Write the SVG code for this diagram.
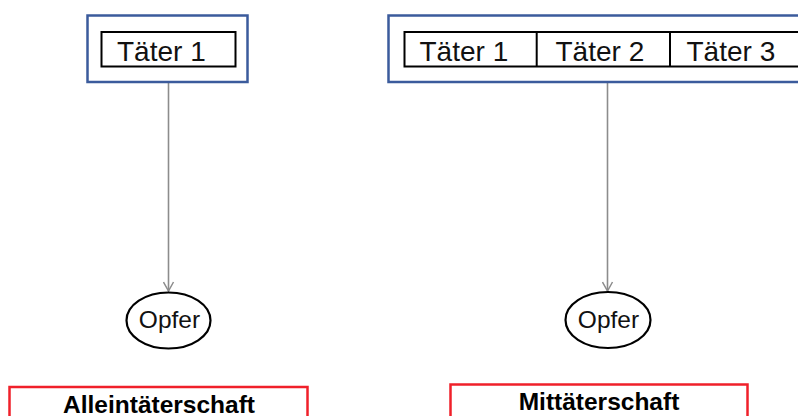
<svg xmlns="http://www.w3.org/2000/svg" width="798" height="416" viewBox="0 0 798 416">
<defs>
<style>
.outer{fill:#fff;stroke:#3B5B9C;stroke-width:2.5}
.cell{fill:#fff;stroke:#000;stroke-width:2}
.t{font-family:"Liberation Sans",Arial,sans-serif;font-size:28px;fill:#111}
.o{font-family:"Liberation Sans",Arial,sans-serif;font-size:24.5px;fill:#111;text-anchor:middle}
.lbl{font-family:"Liberation Sans",Arial,sans-serif;font-size:24.5px;font-weight:bold;fill:#000;text-anchor:middle}
.red{fill:#fff;stroke:#F0202A;stroke-width:2.5}
.ell{fill:#fff;stroke:#000;stroke-width:2.2}
.conn{stroke:#8C8C8C;stroke-width:1.6;fill:none}
</style>
<marker id="arr" markerWidth="12" markerHeight="12" refX="10" refY="6" orient="auto" markerUnits="userSpaceOnUse">
<path d="M1,1 L10,6 L1,11" fill="none" stroke="#8C8C8C" stroke-width="1.5"/>
</marker>
</defs>
<rect width="798" height="416" fill="#fff"/>
<g id="connectors">
<line class="conn" x1="168.5" y1="83" x2="168.5" y2="291" marker-end="url(#arr)"/>
<line class="conn" x1="607.5" y1="83" x2="607.5" y2="291" marker-end="url(#arr)"/>
</g>
<g id="taeter-allein">
<rect class="outer" x="87.5" y="15.5" width="160" height="66.5"/>
<rect class="cell" x="101.5" y="32" width="134" height="34.5"/>
<text class="t" x="117" y="61">Täter 1</text>
</g>
<g id="taeter-mit">
<rect class="outer" x="388.5" y="15.5" width="430" height="66.5"/>
<rect class="cell" x="404.5" y="32" width="400" height="34.5"/>
<line x1="536.7" y1="32" x2="536.7" y2="66.5" stroke="#000" stroke-width="2"/>
<line x1="670" y1="32" x2="670" y2="66.5" stroke="#000" stroke-width="2"/>
<text class="t" x="419.5" y="61">Täter 1</text>
<text class="t" x="555.5" y="61">Täter 2</text>
<text class="t" x="686.5" y="61">Täter 3</text>
</g>
<g id="opfer-1">
<ellipse class="ell" cx="168.5" cy="320.5" rx="42" ry="28"/>
<text class="o" x="169.5" y="328">Opfer</text>
</g>
<g id="opfer-2">
<ellipse class="ell" cx="608" cy="320" rx="42.5" ry="28"/>
<text class="o" x="608.5" y="328">Opfer</text>
</g>
<g id="label-allein">
<rect class="red" x="9.5" y="387" width="298" height="40"/>
<text class="lbl" x="159" y="412.5">Alleintäterschaft</text>
</g>
<g id="label-mit">
<rect class="red" x="450.5" y="384.5" width="297" height="40"/>
<text class="lbl" x="599" y="409.5">Mittäterschaft</text>
</g>
</svg>
